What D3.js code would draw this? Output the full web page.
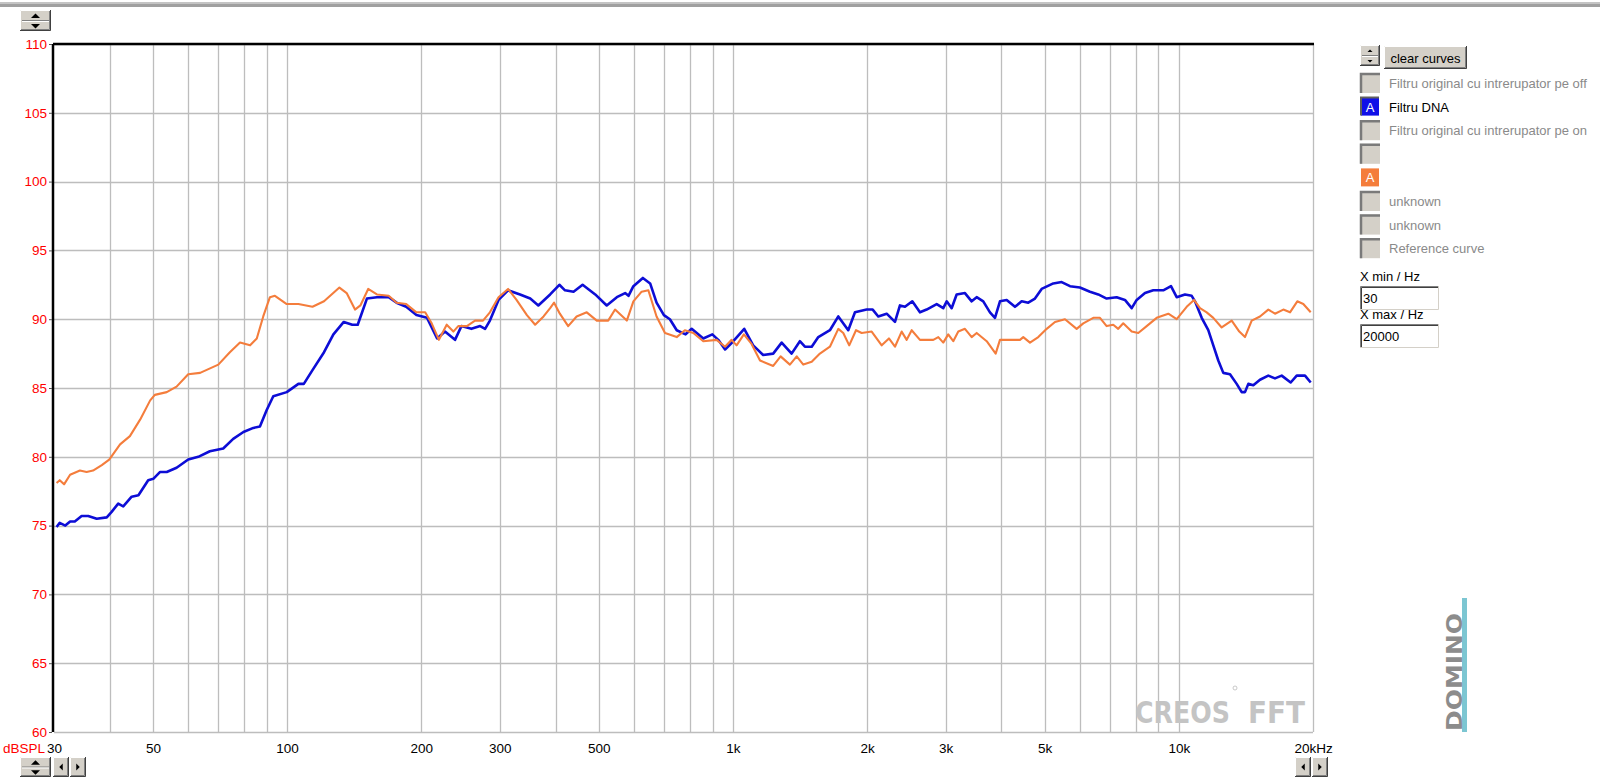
<!DOCTYPE html>
<html><head><meta charset="utf-8">
<script src="https://cdn.jsdelivr.net/npm/d3@7"></script>
<style>body{margin:0;background:#fff;overflow:hidden}svg{display:block}</style>
</head><body><svg id="c" width="1600" height="780"></svg>
<script>
// ---------- data ----------
const freqBlue = [30.4,30.9,31.8,32.6,33.4,34.6,35.8,37.4,39.4,40.4,41.8,42.9,44.8,46.4,48.8,50.1,51.9,53.7,56.5,60.0,63.2,67.1,71.9,75.7,79.8,84.0,86.9,90.0,93.1,99.8,106,109,114,121,127,134,140,144,151,159,169,176,185,195,206,217,226,238,246,259,271,278,285,298,313,333,351,366,389,408,420,439,460,491,521,549,573,583,598,628,652,674,700,722,748,783,808,858,899,927,960,1002,1060,1110,1169,1231,1286,1354,1413,1450,1502,1554,1650,1723,1814,1878,1995,2058,2118,2212,2309,2369,2431,2525,2627,2719,2864,2963,3016,3094,3175,3314,3431,3521,3643,3771,3870,3971,4111,4291,4442,4596,4758,4925,5230,5461,5701,6001,6321,6598,6889,7254,7572,7841,8046,8398,8766,9230,9605,9892,10325,10689,10873,11256,11646,11951,12263,12584,13027,13485,13838,14076,14320,14694,15210,15876,16436,17014,17824,18386,19190,19764];
const dbBlue = [74.9,75.2,75.0,75.3,75.3,75.7,75.7,75.5,75.6,76.0,76.6,76.4,77.1,77.2,78.3,78.4,78.9,78.9,79.2,79.8,80.0,80.4,80.6,81.3,81.8,82.1,82.2,83.4,84.4,84.7,85.3,85.3,86.3,87.6,88.9,89.8,89.6,89.6,91.5,91.6,91.6,91.2,90.9,90.3,90.1,88.6,89.1,88.5,89.5,89.3,89.5,89.3,89.9,91.4,92.1,91.8,91.5,91.0,91.8,92.5,92.1,92.0,92.5,91.8,91.0,91.6,91.9,91.7,92.4,93.0,92.6,91.2,90.3,90.0,89.2,88.9,89.3,88.6,88.9,88.5,87.8,88.4,89.3,88.1,87.4,87.5,88.3,87.5,88.4,88.0,88.0,88.7,89.2,90.2,89.2,90.5,90.7,90.7,90.2,90.4,89.8,91.0,90.9,91.3,90.5,90.7,91.1,90.8,91.3,90.8,91.8,91.9,91.3,91.6,91.3,90.5,90.1,91.3,91.4,90.9,91.3,91.2,91.5,92.2,92.6,92.7,92.4,92.3,92.0,91.8,91.5,91.6,91.4,90.8,91.4,91.9,92.1,92.1,92.4,91.6,91.8,91.7,91.3,90.1,89.2,88.1,87.0,86.1,86.0,85.3,84.7,84.7,85.3,85.2,85.6,85.9,85.7,85.9,85.4,85.9,85.9,85.4];
const freqOrange = [30.4,30.9,31.6,32.6,34.3,35.5,36.7,38.4,39.9,42.2,44.4,46.8,49.3,50.5,53.7,56.5,60,63.8,70.1,74.4,78.4,82.6,85.5,88.4,91.5,93.9,99.8,106,114,121,131,136,142,146,152,159,169,176,185,195,204,211,219,228,236,242,253,264,275,285,298,313,327,345,360,376,389,397,409,427,446,470,495,525,544,578,598,624,646,674,704,748,780,815,858,919,960,993,1019,1058,1101,1150,1231,1279,1342,1390,1438,1502,1567,1650,1723,1768,1823,1888,1944,2047,2156,2238,2309,2390,2453,2517,2627,2814,2888,2963,3040,3120,3202,3314,3431,3521,3708,3884,3971,4182,4403,4479,4637,4840,5055,5276,5556,5901,6106,6430,6656,6889,7128,7314,7506,7841,8112,8472,8921,9473,9892,10416,10817,11157,11550,11951,12480,13142,13668,14076,14572,15210,15876,16436,17156,17760,18442,19024,19764];
const dbOrange = [78.1,78.3,78.0,78.7,79.0,78.9,79.0,79.4,79.8,80.9,81.5,82.7,84.1,84.5,84.7,85.1,86.0,86.1,86.7,87.6,88.3,88.1,88.6,90.2,91.6,91.7,91.1,91.1,90.9,91.3,92.3,91.9,90.7,91.0,92.2,91.8,91.7,91.2,91.1,90.5,90.5,89.7,88.5,89.6,89.1,89.5,89.5,89.9,89.9,90.5,91.6,92.2,91.4,90.3,89.6,90.2,90.8,91.2,90.4,89.5,90.2,90.5,89.9,89.9,90.7,89.9,91.3,92.0,92.1,90.2,89.0,88.7,89.2,89.0,88.4,88.5,88.0,88.5,88.1,88.9,88.2,87.0,86.6,87.3,86.7,87.3,86.7,86.9,87.5,88.0,89.3,89.0,88.1,89.2,89.0,89.1,88.1,88.6,88.0,89.1,88.5,89.2,88.5,88.5,88.7,88.3,88.9,88.4,89.1,89.3,88.7,89.0,88.4,87.5,88.5,88.5,88.5,88.7,88.3,88.7,89.3,89.8,90.0,89.3,89.7,90.1,90.1,89.5,89.6,89.3,89.7,89.1,89.0,89.5,90.1,90.4,90.0,90.9,91.4,90.8,90.5,90.1,89.4,89.9,89.1,88.7,89.9,90.2,90.7,90.4,90.7,90.5,91.3,91.1,90.5];

const xTickValues = [30,50,100,200,300,500,1000,2000,3000,5000,10000,20000];
const xTickLabels = ["30","50","100","200","300","500","1k","2k","3k","5k","10k","20kHz"];
const xGridValues = [40,50,60,70,80,90,100,200,300,400,500,600,700,800,900,1000,2000,3000,4000,5000,6000,7000,8000,9000,10000];
const yTickValues = [60,65,70,75,80,85,90,95,100,105,110];
const yUnit = "dBSPL";
const legendLabels = ["Filtru original cu intrerupator pe off","Filtru DNA","Filtru original cu intrerupator pe on","","","unknown","unknown","Reference curve"];
const legendActive = ["","blue","","","orange","","",""];
const xMinLabel = "X min / Hz", xMaxLabel = "X max / Hz";
const xMinValue = "30", xMaxValue = "20000";

// ---------- drawing ----------
const FONT = "'Liberation Sans', Arial, sans-serif";
const BLUE = "#0d0dd6", ORANGE = "#f47d3c", FACE = "#d4d0c8";
const svg = d3.select("#c");
const L = 54, R = 1313, T = 44, B = 732;
const x = d3.scaleLog().domain([30, 20000]).range([L, R]);
const y = d3.scaleLinear().domain([60, 110]).range([B, T]);

// top window bar
svg.append("rect").attr("x",0).attr("y",2).attr("width",1600).attr("height",2).attr("fill","#c4c4c4");
svg.append("rect").attr("x",0).attr("y",4).attr("width",1600).attr("height",3).attr("fill","#a0a0a0");

// grid
const grid = svg.append("g");
grid.selectAll("line.v").data(xGridValues).join("line")
  .attr("x1", d => Math.round(x(d)) + 0.5).attr("x2", d => Math.round(x(d)) + 0.5)
  .attr("y1", T).attr("y2", B).attr("stroke", "#bdbdbd").attr("stroke-width", 1.3);
grid.selectAll("line.h").data(yTickValues).join("line")
  .attr("y1", d => Math.round(y(d)) + 0.5).attr("y2", d => Math.round(y(d)) + 0.5)
  .attr("x1", L).attr("x2", R).attr("stroke", "#bdbdbd").attr("stroke-width", 1.3);
// right border
svg.append("line").attr("x1", R + 0.5).attr("x2", R + 0.5).attr("y1", T).attr("y2", B)
  .attr("stroke", "#bdbdbd").attr("stroke-width", 1.3);

// watermark CREOS FFT
svg.append("text").attr("x", 1135).attr("y", 723).attr("textLength", 95).attr("lengthAdjust","spacingAndGlyphs")
  .attr("font-family","'DejaVu Sans', sans-serif").attr("font-weight","bold").attr("font-size",31)
  .attr("fill","#c4c4c4").text("CREOS");
svg.append("text").attr("x", 1248).attr("y", 723).attr("textLength", 57).attr("lengthAdjust","spacingAndGlyphs")
  .attr("font-family","'DejaVu Sans', sans-serif").attr("font-weight","bold").attr("font-size",31)
  .attr("fill","#c4c4c4").text("FFT");
svg.append("circle").attr("cx",1235).attr("cy",688).attr("r",2).attr("fill","none").attr("stroke","#bbb").attr("stroke-width",0.8);

// curves
const line = d3.line().x(d => x(d[0])).y(d => y(d[1]));
svg.append("path").datum(freqBlue.map((f,i)=>[f,dbBlue[i]])).attr("d", line)
  .attr("fill","none").attr("stroke",BLUE).attr("stroke-width",2.6).attr("stroke-linejoin","round");
svg.append("path").datum(freqOrange.map((f,i)=>[f,dbOrange[i]])).attr("d", line)
  .attr("fill","none").attr("stroke",ORANGE).attr("stroke-width",2.1).attr("stroke-linejoin","round");

// axes borders
svg.append("line").attr("x1", L-1).attr("x2", R+1).attr("y1", T).attr("y2", T).attr("stroke","#000").attr("stroke-width",2.5);
svg.append("line").attr("x1", L-1).attr("x2", L-1).attr("y1", T).attr("y2", B).attr("stroke","#000").attr("stroke-width",2.5);

// y axis labels
const yAxis = d3.axisLeft(y).tickValues(yTickValues).tickSize(3).tickPadding(2).tickFormat(d3.format("d"));
const gy = svg.append("g").attr("transform", `translate(${L-2},0)`).call(yAxis);
gy.select(".domain").remove();
gy.selectAll(".tick line").attr("stroke","#555");
gy.selectAll("text").attr("fill","#f00").attr("font-family",FONT).attr("font-size",13.5);

// x axis labels
const xAxis = d3.axisBottom(x).tickValues(xTickValues).tickSize(0).tickPadding(0).tickFormat((d,i)=>xTickLabels[i]);
const gx = svg.append("g").attr("transform", `translate(0,${B})`).call(xAxis);
gx.select(".domain").remove();
gx.selectAll("text").attr("fill","#000").attr("font-family",FONT).attr("font-size",13.5).attr("dy",null).attr("y",21);
svg.append("text").attr("x", 45).attr("y", B+21).attr("text-anchor","end").attr("fill","#f00")
  .attr("font-family",FONT).attr("font-size",13.5).text(yUnit);

// ---------- widgets ----------
function button(g, bx, by, w, h) {
  g.append("rect").attr("x",bx).attr("y",by).attr("width",w).attr("height",h).attr("fill",FACE);
  g.append("path").attr("d",`M${bx+0.5},${by+h}V${by+0.5}H${bx+w}`).attr("stroke","#fff").attr("fill","none");
  g.append("path").attr("d",`M${bx},${by+h-0.5}H${bx+w-0.5}V${by}`).attr("stroke","#404040").attr("fill","none");
  g.append("path").attr("d",`M${bx+1},${by+h-1.5}H${bx+w-1.5}V${by+1}`).attr("stroke","#808080").attr("fill","none");
}
function tri(g, cx, cy, dir, s) {
  let p;
  if (dir==="up") p=`M${cx-s},${cy+s/2}L${cx+s},${cy+s/2}L${cx},${cy-s/2}Z`;
  if (dir==="down") p=`M${cx-s},${cy-s/2}L${cx+s},${cy-s/2}L${cx},${cy+s/2}Z`;
  if (dir==="left") p=`M${cx+s/2},${cy-s}L${cx+s/2},${cy+s}L${cx-s/2},${cy}Z`;
  if (dir==="right") p=`M${cx-s/2},${cy-s}L${cx-s/2},${cy+s}L${cx+s/2},${cy}Z`;
  g.append("path").attr("d",p).attr("fill","#000");
}
function spinner(g, bx, by, w, h, s) {
  button(g, bx, by, w, h);
  g.append("line").attr("x1",bx+2).attr("x2",bx+w-2).attr("y1",by+h/2).attr("y2",by+h/2).attr("stroke","#808080");
  g.append("line").attr("x1",bx+2).attr("x2",bx+w-2).attr("y1",by+h/2+1).attr("y2",by+h/2+1).attr("stroke","#fff");
  tri(g, bx+w/2, by+h/4+0.5, "up", s);
  tri(g, bx+w/2, by+3*h/4+0.5, "down", s);
}
function arrows(g, bx, by) {
  button(g, bx, by, 16, 20); tri(g, bx+8, by+10, "left", 3.5);
  button(g, bx+17, by, 16, 20); tri(g, bx+25, by+10, "right", 3.5);
}
const w = svg.append("g");
spinner(w, 20, 10, 31, 21, 4.5);
spinner(w, 20, 757, 31, 20, 4.5);
arrows(w, 53, 757);
arrows(w, 1295, 757);

// legend panel
spinner(w, 1360, 45, 20, 21, 2.5);
button(w, 1384, 46, 83, 23);
w.append("text").attr("x",1425.5).attr("y",62.5).attr("text-anchor","middle").attr("font-family",FONT)
  .attr("font-size",13).attr("fill","#000").text("clear curves");

legendLabels.forEach((lab, i) => {
  const cy = 83 + i*23.6;
  const act = legendActive[i];
  if (act) {
    const col = act === "blue" ? "#1010e8" : ORANGE;
    w.append("rect").attr("x",1361).attr("y",cy-9).attr("width",18).attr("height",18).attr("fill",col);
    if (act==="blue") w.append("path").attr("d",`M1361,${cy+9}V${cy-9}H1379`).attr("stroke","#606060").attr("stroke-width",2).attr("fill","none");
    w.append("text").attr("x",1370).attr("y",cy+5).attr("text-anchor","middle").attr("font-family",FONT)
      .attr("font-size",13).attr("fill","#fff").text("A");
  } else {
    w.append("rect").attr("x",1360).attr("y",cy-10).attr("width",20).attr("height",20).attr("fill",FACE);
    w.append("path").attr("d",`M1361,${cy+10}V${cy-9}H1380`).attr("stroke","#7a7a7a").attr("stroke-width",2.5).attr("fill","none");
  }
  if (lab) w.append("text").attr("x",1389).attr("y",cy+5).attr("font-family",FONT).attr("font-size",13)
    .attr("fill", act==="blue" ? "#000" : "#8a8a8a").text(lab);
});

function inputBox(g, bx, by, label, val) {
  g.append("text").attr("x",bx).attr("y",by-5).attr("font-family",FONT).attr("font-size",13).attr("fill","#000").text(label);
  g.append("rect").attr("x",bx).attr("y",by).attr("width",79).attr("height",24).attr("fill","#fff");
  g.append("path").attr("d",`M${bx+0.5},${by+24}V${by+0.5}H${bx+79}`).attr("stroke","#808080").attr("fill","none");
  g.append("path").attr("d",`M${bx+1.5},${by+23}V${by+1.5}H${bx+78}`).attr("stroke","#404040").attr("fill","none");
  g.append("path").attr("d",`M${bx},${by+23.5}H${bx+78.5}V${by}`).attr("stroke","#d4d0c8").attr("fill","none");
  g.append("text").attr("x",bx+3).attr("y",by+17).attr("font-family",FONT).attr("font-size",13).attr("fill","#000").text(val);
}
inputBox(w, 1360, 286, xMinLabel, xMinValue);
inputBox(w, 1360, 324, xMaxLabel, xMaxValue);

// DOMINO logo
const lg = svg.append("g");
lg.append("rect").attr("x",1462).attr("y",598).attr("width",5).attr("height",134).attr("fill","#7cc6d2");
lg.append("text").attr("transform","translate(1462,731) rotate(-90)").attr("textLength",118).attr("lengthAdjust","spacingAndGlyphs")
  .attr("font-family","'DejaVu Sans', sans-serif").attr("font-weight","bold").attr("font-size",22).attr("fill","#8c8c8c")
  .text("DOMINO");
</script></body></html>
